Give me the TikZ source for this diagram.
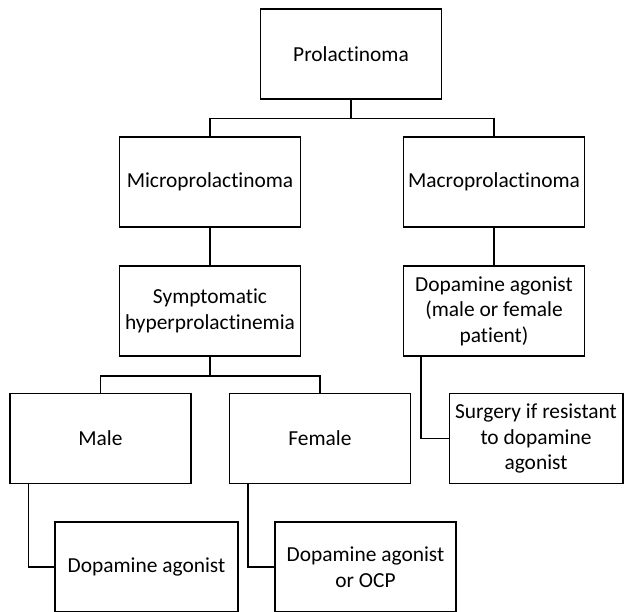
\documentclass[tikz,border=0pt]{standalone}
\usepackage{fontspec}
\setmainfont{Carlito}[Ligatures=NoCommon]
\usetikzlibrary{calc}
\tikzset{
  box/.style={draw=black, line width=1.5pt, rectangle, minimum width=181pt, minimum height=90pt,
    inner sep=0pt, align=center, font=\fontsize{21.4}{25.5}\selectfont},
  link/.style={draw=black, line width=1.5pt}
}
\begin{document}
\begin{tikzpicture}[x=1pt,y=-1pt]
\useasboundingbox (0,0) rectangle (624,612);
\clip (0,0) rectangle (624,612);
\node[box] (pro) at (351,54) {Prolactinoma};
\node[box] (micro) at (210,182) {Microprolactinoma};
\node[box] (macro) at (494,182) {Macroprolactinoma};
\node[box] (symp) at (210,311) {Symptomatic\\hyperprolactinemia};
\node[box] (da1) at (494,311) {Dopamine agonist\\(male or female\\patient)};
\node[box] (male) at (100.5,438.5) {Male};
\node[box] (female) at (320,438.5) {Female};
\node[box, minimum width=173.5pt] (surg) at (536,438.5) {Surgery if resistant\\to dopamine\\agonist};
\node[box, minimum width=183pt] (dam) at (146.5,567) {Dopamine agonist};
\node[box] (daocp) at (365.5,567) {Dopamine agonist\\or OCP};
% connectors
\draw[link] (pro.south) -- ++(0,19) -| (micro.north);
\draw[link] (pro.south) ++(0,19) -| (macro.north);
\draw[link] (micro.south) -- (symp.north);
\draw[link] (macro.south) -- (da1.north);
\draw[link] (symp.south) -- ++(0,19) -| (male.north);
\draw[link] (symp.south) ++(0,19) -| (female.north);
\draw[link] ($(male.south west)+(19,0)$) |- (dam.west);
\draw[link] ($(female.south west)+(19,0)$) |- (daocp.west);
\draw[link] ($(da1.south west)+(18,0)$) |- (surg.west);
\end{tikzpicture}
\end{document}
